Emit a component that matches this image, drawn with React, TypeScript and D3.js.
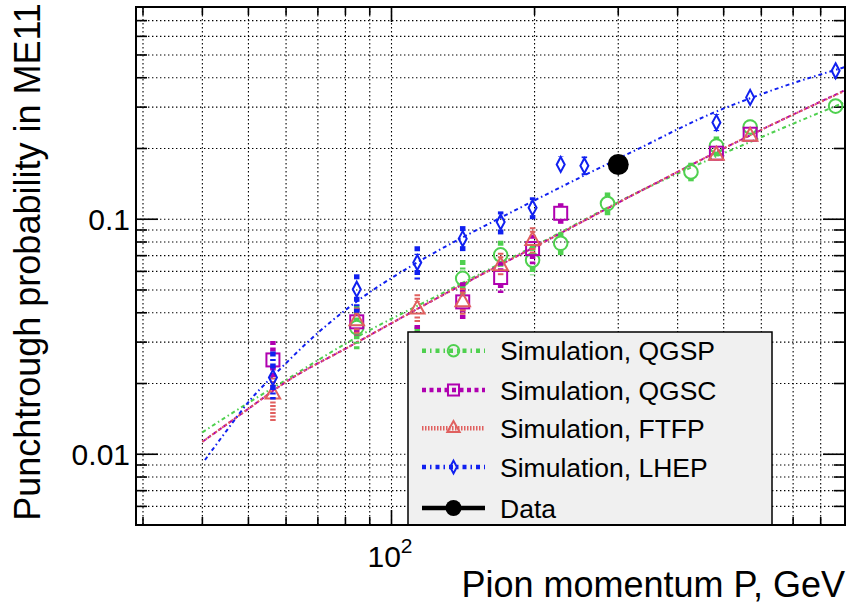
import React from "react";
import * as d3 from "d3";

// Beam momenta of the simulated points (GeV)
const momenta = [56.3, 84.5, 113.3, 141.2, 169.7, 198.1, 227, 254.6, 284.8, 426.7, 482.7, 568.4, 860];

// Punch-through probability per physics list (null = no point), with error band edges
const qgspVal = [null, 0.0346, 0.029, 0.056, 0.0705, 0.067, 0.079, null, 0.1166, 0.159, 0.205, 0.247, 0.303];
const qgspHi = [null, 0.043, 0.035, 0.0671, 0.081, 0.077, 0.088, null, 0.13, 0.174, 0.225, 0.265, 0.31];
const qgspLo = [null, 0.028, 0.024, 0.047, 0.0615, 0.0578, 0.069, null, 0.104, 0.145, 0.185, 0.23, 0.296];

const qgscVal = [0.0252, 0.0366, 0.03, 0.0445, 0.0565, 0.075, 0.106, null, null, null, 0.191, 0.23, null];
const qgscHi = [0.0303, 0.042, 0.0355, 0.054, 0.066, 0.086, 0.117, null, null, null, 0.205, 0.245, null];
const qgscLo = [0.021, 0.032, 0.025, 0.0369, 0.0485, 0.0643, 0.0934, null, null, null, 0.178, 0.215, null];

const ftfpVal = [0.018, 0.0369, 0.0414, 0.0445, 0.0633, 0.081, null, null, null, null, 0.187, 0.225, null];
const ftfpHi = [0.0212, 0.042, 0.048, 0.051, 0.072, 0.0925, null, null, null, null, 0.2, 0.24, null];
const ftfpLo = [0.0138, 0.032, 0.036, 0.039, 0.057, 0.071, null, null, null, null, 0.175, 0.21, null];

const lhepVal = [0.0212, 0.0504, 0.0654, 0.0827, 0.0974, 0.112, 0.171, 0.169, null, null, 0.258, 0.33, 0.428];
const lhepHi = [0.0274, 0.0583, 0.0768, 0.0935, 0.108, 0.124, 0.185, 0.185, null, null, 0.28, 0.34, 0.44];
const lhepLo = [0.0171, 0.04, 0.0545, 0.0724, 0.0847, 0.1, 0.159, 0.154, null, null, 0.237, 0.32, 0.416];

// Measured point
const dataMomentum = [300];
const dataVal = [0.171];

// Fitted curves (momentum, probability)
const qgspFitP = [40, 48.2, 60.4, 82, 133, 198.8, 333.6, 634.6, 900];
const qgspFitV = [0.0124, 0.0158, 0.0209, 0.0304, 0.0504, 0.0765, 0.1316, 0.2345, 0.3147];
const qgscFitP = [40, 48.2, 60.4, 82, 133, 198.8, 333.6, 634.6, 900];
const qgscFitV = [0.0113, 0.0148, 0.0205, 0.0289, 0.0495, 0.0757, 0.1316, 0.2537, 0.354];
const ftfpFitP = [40, 48.2, 60.4, 82, 133, 198.8, 333.6, 634.6, 900];
const ftfpFitV = [0.0113, 0.0148, 0.0205, 0.0289, 0.0495, 0.0757, 0.1316, 0.2537, 0.352];
const lhepFitP = [40.5, 44.6, 50.4, 58.3, 69.7, 87.1, 107.8, 132.8, 169.2, 226.2, 333.3, 461.2, 634.7, 900];
const lhepFitV = [0.00945, 0.01231, 0.017, 0.02305, 0.0326, 0.0467, 0.0617, 0.0784, 0.1012, 0.1364, 0.2009, 0.2763, 0.3546, 0.4443];

// Axis ticks
const xTickValues = [30, 40, 50, 60, 70, 80, 90, 100, 200, 300, 400, 500, 600, 700, 800];
const xMajorTicks = [100];
const yTickValues = [0.006, 0.007, 0.008, 0.009, 0.01, 0.02, 0.03, 0.04, 0.05, 0.06, 0.07, 0.08, 0.09, 0.1, 0.2, 0.3, 0.4, 0.5, 0.6, 0.7];
const yMajorTicks = [0.01, 0.1];

const seriesNames = ["Simulation, QGSP", "Simulation, QGSC", "Simulation, FTFP", "Simulation, LHEP"];
const dataName = "Data";

const FONT = "'Liberation Sans', Arial, Helvetica, sans-serif";

const left = 136, right = 845, top = 7, bottom = 525;
const x = d3.scaleLog().domain([29, 900]).range([left, right]);
const y = d3.scaleLog().domain([0.005, 0.8]).range([bottom, top]);

type MarkerKind = "circle" | "square" | "triangle" | "diamond";

interface Series {
  name: string;
  color: string;
  dash: string;
  barDash: string;
  fitDash: string;
  marker: MarkerKind;
  val: (number | null)[];
  hi: (number | null)[];
  lo: (number | null)[];
  fitP: number[];
  fitV: number[];
}

const series: Series[] = [
  { name: seriesNames[0], color: "#4fd04f", dash: "4 4 1.5 4", barDash: "5 2.5 2 2.5", fitDash: "4 3 1.5 3", marker: "circle", val: qgspVal, hi: qgspHi, lo: qgspLo, fitP: qgspFitP, fitV: qgspFitV },
  { name: seriesNames[1], color: "#b000b0", dash: "4 3.5", barDash: "4 2.5", fitDash: "4 2.5", marker: "square", val: qgscVal, hi: qgscHi, lo: qgscLo, fitP: qgscFitP, fitV: qgscFitV },
  { name: seriesNames[2], color: "#e0605f", dash: "1.5 1.5", barDash: "2 1.5", fitDash: "2 2", marker: "triangle", val: ftfpVal, hi: ftfpHi, lo: ftfpLo, fitP: ftfpFitP, fitV: ftfpFitV },
  { name: seriesNames[3], color: "#1020f0", dash: "4 4 1.5 4", barDash: "5 2.5 2 2.5", fitDash: "4 3 1.5 3", marker: "diamond", val: lhepVal, hi: lhepHi, lo: lhepLo, fitP: lhepFitP, fitV: lhepFitV },
];

const markerHalf: Record<MarkerKind, number> = { circle: 6.8, square: 6.5, triangle: 7.3, diamond: 7.5 };

function Marker({ kind, cx, cy, color, scale = 1 }: { kind: MarkerKind; cx: number; cy: number; color: string; scale?: number }) {
  const common = { fill: "none", stroke: color, strokeWidth: 2 };
  if (kind === "circle") return <circle cx={cx} cy={cy} r={6.8 * scale} {...common} />;
  if (kind === "square") {
    const s = 13 * scale;
    return <rect x={cx - s / 2} y={cy - s / 2} width={s} height={s} {...common} />;
  }
  if (kind === "triangle") {
    const w = 14.5 * scale, h = 13 * scale;
    const pts = `${cx},${cy - (h * 2) / 3} ${cx - w / 2},${cy + h / 3} ${cx + w / 2},${cy + h / 3}`;
    return <polygon points={pts} {...common} />;
  }
  const w = 8 * scale, h = 15 * scale;
  const pts = `${cx},${cy - h / 2} ${cx + w / 2},${cy} ${cx},${cy + h / 2} ${cx - w / 2},${cy}`;
  return <polygon points={pts} {...common} />;
}

export default function App() {
  const fitLine = d3
    .line<[number, number]>()
    .x((d) => x(d[0]))
    .y((d) => y(d[1]))
    .curve(d3.curveMonotoneX);

  const legendRows = [350.7, 390, 428.3, 467, 508];
  const legendLineX0 = 422, legendLineX1 = 485, legendMarkX = 453.5, legendTextX = 500;

  return (
    <svg width={851} height={604} style={{ position: "absolute", left: 0, top: 0, background: "#fff" }} fontFamily={FONT}>
      <rect x={0} y={0} width={851} height={604} fill="#fff" />

      {/* dotted grid */}
      <g stroke="#000" strokeWidth={1.1} strokeDasharray="1.4 2.6">
        {xTickValues.map((t) => (
          <line key={"gx" + t} x1={x(t)} x2={x(t)} y1={top} y2={bottom} />
        ))}
        {yTickValues.map((t) => (
          <line key={"gy" + t} x1={left} x2={right} y1={y(t)} y2={y(t)} />
        ))}
      </g>

      {/* tick marks on all four sides */}
      <g stroke="#000" strokeWidth={1.6}>
        {xTickValues.map((t) => {
          const len = xMajorTicks.includes(t) ? 15 : 8;
          return (
            <g key={"tx" + t}>
              <line x1={x(t)} x2={x(t)} y1={bottom} y2={bottom - len} />
              <line x1={x(t)} x2={x(t)} y1={top} y2={top + len} />
            </g>
          );
        })}
        {yTickValues.map((t) => {
          const len = yMajorTicks.includes(t) ? 22 : 11;
          return (
            <g key={"ty" + t}>
              <line x1={left} x2={left + len} y1={y(t)} y2={y(t)} />
              <line x1={right} x2={right - len} y1={y(t)} y2={y(t)} />
            </g>
          );
        })}
      </g>

      {/* fitted curves */}
      {series.map((s) => (
        <path
          key={"fit" + s.name}
          d={fitLine(s.fitP.map((p, i) => [p, s.fitV[i]] as [number, number])) || ""}
          fill="none"
          stroke={s.color}
          strokeWidth={2}
          strokeDasharray={s.fitDash}
        />
      ))}

      {/* simulated points with error bars */}
      {series.map((s) => (
        <g key={"pts" + s.name}>
          {momenta.map((p, i) => {
            const v = s.val[i];
            if (v == null) return null;
            const cx = x(p), cy = y(v);
            const hi = s.hi[i], lo = s.lo[i];
            const half = markerHalf[s.marker];
            return (
              <g key={i}>
                {hi != null && y(hi) < cy - half && (
                  <line x1={cx} x2={cx} y1={y(hi)} y2={cy - half} stroke={s.color} strokeWidth={5.5} strokeDasharray={s.barDash} />
                )}
                {lo != null && y(lo) > cy + half && (
                  <line x1={cx} x2={cx} y1={cy + half} y2={y(lo)} stroke={s.color} strokeWidth={5.5} strokeDasharray={s.barDash} />
                )}
                <Marker kind={s.marker} cx={cx} cy={cy} color={s.color} />
              </g>
            );
          })}
        </g>
      ))}

      {/* measurement */}
      {dataMomentum.map((p, i) => (
        <circle key={"data" + i} cx={x(p)} cy={y(dataVal[i])} r={10.5} fill="#000" />
      ))}

      {/* legend */}
      <rect x={408} y={332} width={364} height={bottom - 332} fill="#f0f0f0" stroke="#000" strokeWidth={1.5} />
      {series.map((s, i) => (
        <g key={"leg" + s.name}>
          <line x1={legendLineX0} x2={legendLineX1} y1={legendRows[i]} y2={legendRows[i]} stroke={s.color} strokeWidth={4.5} strokeDasharray={s.dash} />
          <Marker kind={s.marker} cx={legendMarkX} cy={legendRows[i]} color={s.color} scale={0.85} />
          <text x={legendTextX} y={legendRows[i] + 9.5} fontSize={26.5} fill="#000">
            {s.name}
          </text>
        </g>
      ))}
      <g>
        <line x1={legendLineX0} x2={legendLineX1} y1={legendRows[4]} y2={legendRows[4]} stroke="#000" strokeWidth={4.5} />
        <circle cx={legendMarkX} cy={legendRows[4]} r={8} fill="#000" />
        <text x={legendTextX} y={legendRows[4] + 9.5} fontSize={26.5} fill="#000">
          {dataName}
        </text>
      </g>

      {/* frame */}
      <rect x={left} y={top} width={right - left} height={bottom - top} fill="none" stroke="#000" strokeWidth={2} />

      {/* tick labels */}
      {yMajorTicks.map((t) => (
        <text key={"yl" + t} x={130} y={y(t) + 10.5} fontSize={30} textAnchor="end" fill="#000">
          {String(t)}
        </text>
      ))}
      {xMajorTicks.map((t) => (
        <text key={"xl" + t} x={x(t) - 24} y={567} fontSize={30} fill="#000">
          {"10"}
          <tspan fontSize={21} dy={-14}>
            {String(Math.round(Math.log10(t)))}
          </tspan>
        </text>
      ))}

      {/* axis titles */}
      <text x={right} y={597} fontSize={36} textAnchor="end" fill="#000">
        Pion momentum P, GeV
      </text>
      <text transform="translate(40,262) rotate(-90)" fontSize={36} textAnchor="middle" fill="#000">
        Punchtrough probability in ME11
      </text>
    </svg>
  );
}
